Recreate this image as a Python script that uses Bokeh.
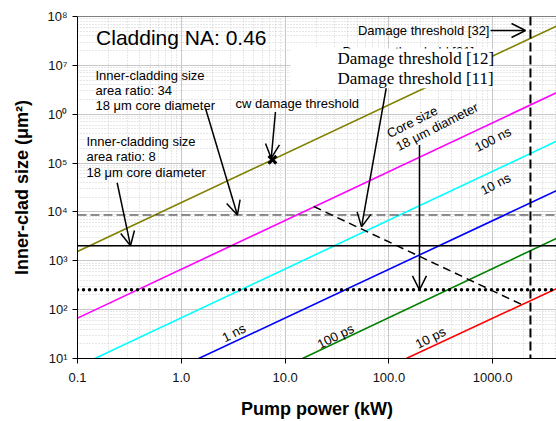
from bokeh.plotting import figure
from bokeh.models import FixedTicker, Span, Label, Arrow, OpenHead, BoxAnnotation, Range1d
from bokeh.embed import file_html
from bokeh.resources import INLINE
import math

# ---------------- data ----------------
x_ticks = [0.1, 1, 10, 100, 1000]
x_tick_labels = ["0.1", "1.0", "10.0", "100.0", "1000.0"]
y_ticks = [1e1, 1e2, 1e3, 1e4, 1e5, 1e6, 1e7, 1e8]
y_tick_labels = ["10¹", "10²", "10³", "10⁴", "10⁵", "10⁰", "10⁷", "10⁸"]

# threshold lines: inner-clad size (um^2) vs pump power (kW), end points
line_names = ["cw", "100 ns", "10 ns", "1 ns", "100 ps", "10 ps"]
line_colors = ["#808000", "#ff00ff", "#00ffff", "#0000ff", "#008000", "#ff0000"]
line_p_start = [0.1, 0.1, 0.147, 1.47, 14.7, 147.0]
line_p_end = [4117, 4117, 4117, 4117, 4117, 4117]
line_a_start = [1550, 67, 10, 10, 10, 10]
line_a_end = [6.38e7, 2.76e6, 2.8e5, 2.72e4, 2.88e3, 2.7e2]

ratio34_area = 8650      # inner-cladding, area ratio 34
ratio8_area = 2036       # inner-cladding, area ratio 8
core_area = 254          # 18 um core
damage32_power = 2310    # vertical damage threshold [32]
damage11_p = [18.9, 1923]
damage11_a = [12900, 126]
cw_point_p = [7.55]
cw_point_a = [1.17e5]

# annotation texts: (text, x, y, align, size, font)
labels = [
    ("Cladding NA: 0.46", 0.151, 3.67e7, "left", "21px", "Liberation Sans"),
    ("Inner-cladding size", 0.149, 6.25e6, "left", "13px", "Liberation Sans"),
    ("area ratio: 34", 0.149, 3.09e6, "left", "13px", "Liberation Sans"),
    ("18 μm core diameter", 0.149, 1.476e6, "left", "13px", "Liberation Sans"),
    ("Inner-cladding size", 0.122, 2.72e5, "left", "13px", "Liberation Sans"),
    ("area ratio: 8", 0.122, 1.345e5, "left", "13px", "Liberation Sans"),
    ("18 μm core diameter", 0.122, 6.34e4, "left", "13px", "Liberation Sans"),
    ("cw damage threshold", 3.33, 1.65e6, "left", "13px", "Liberation Sans"),
    ("Damage threshold [32]", 931, 5.18e7, "right", "13px", "Liberation Sans"),
    ("Damage threshold [31]", 35.7, 1.93e7, "left", "13px", "Liberation Sans"),
]
box_p = [11.3, 995]
box_a = [3.4e6, 2.22e7]
serif_labels = [
    ("Damage threshold [12]", 32.0, 1.41e7),
    ("Damage threshold [11]", 32.0, 5.51e6),
]
rot_labels = [
    ("100 ns", 1002, 3.05e5),
    ("10 ns", 1064, 3.73e4),
    ("1 ns", 3.21, 33.5),
    ("100 ps", 30.6, 28.5),
    ("10 ps", 251.6, 26.5),
    ("Core size", 167.7, 6.97e5),
    ("18 μm diameter", 290.6, 5.56e5),
]
arrows = [  # (x_start, y_start, x_end, y_end)
    (1.71, 1.32e6, 3.47, 8650),
    (0.241, 3.96e4, 0.324, 2036),
    (8.07, 1.11e6, 7.35, 1.26e5),
    (953, 5.18e7, 2070, 5.18e7),
    (94.2, 3.4e6, 54.5, 4940),
    (197, 2.33e5, 197, 254),
]

# ---------------- figure ----------------
p = figure(width=556, height=421, x_axis_type="log", y_axis_type="log",
           x_range=Range1d(0.1, 4117), y_range=Range1d(10, 1e8),
           output_backend="svg", toolbar_location=None,
           min_border_left=77, min_border_right=0, min_border_top=16, min_border_bottom=62)
p.outline_line_color = None
p.background_fill_color = "white"
p.border_fill_color = "white"

x_minor = [k * 10 ** e for e in range(-1, 4) for k in range(2, 10)]
y_minor = [k * 10 ** e for e in range(1, 8) for k in range(2, 10)]
xt = FixedTicker(ticks=x_ticks, minor_ticks=x_minor)
yt = FixedTicker(ticks=y_ticks, minor_ticks=y_minor)
p.xaxis.ticker = xt
p.yaxis.ticker = yt
p.xgrid.ticker = xt
p.ygrid.ticker = yt

for g in (p.xgrid, p.ygrid):
    g.grid_line_color = "#c8c8c8"
    g.grid_line_width = 1
    g.minor_grid_line_color = "#cfcfcf"
    g.minor_grid_line_dash = "1 2"
    g.minor_grid_line_width = 1

for ax in (p.xaxis, p.yaxis):
    ax.axis_line_color = "black"
    ax.axis_line_width = 1
    ax.major_tick_line_color = "black"
    ax.major_tick_out = 5
    ax.major_tick_in = 0
    ax.minor_tick_out = 0
    ax.minor_tick_in = 0
    ax.major_label_text_font = "Liberation Sans"
    ax.major_label_text_font_size = "13px"
    ax.major_label_text_color = "#111111"
    ax.axis_label_text_font = "Liberation Sans"
    ax.axis_label_text_font_style = "bold"
    ax.axis_label_text_font_size = "18px"
    ax.axis_label_text_color = "black"

p.xaxis.major_label_overrides = dict(zip(x_ticks, x_tick_labels))
p.yaxis.major_label_overrides = dict(zip(y_ticks, y_tick_labels))
p.xaxis.major_label_standoff = 9
p.yaxis.major_label_standoff = 5
p.xaxis.axis_label = "Pump power (kW)"
p.yaxis.axis_label = "Inner-clad size (μm²)"
p.xaxis.axis_label_standoff = 14
p.yaxis.axis_label_standoff = 12

# top border
p.add_layout(Span(location=1e8, dimension="width", line_color="black", line_width=1))

# horizontal / vertical reference lines
p.add_layout(Span(location=ratio34_area, dimension="width", line_color="#222222",
                  line_width=1, line_dash="9 4", level="glyph"))
p.add_layout(Span(location=ratio8_area, dimension="width", line_color="black",
                  line_width=1.5, level="glyph"))
p.add_layout(Span(location=core_area, dimension="width", line_color="black",
                  line_width=3.5, line_dash="0 6", line_cap="round", level="glyph"))
p.add_layout(Span(location=damage32_power, dimension="height", line_color="black",
                  line_width=2, line_dash="9 4", level="glyph"))

# threshold lines
for c, x0, x1, y0, y1 in zip(line_colors, line_p_start, line_p_end, line_a_start, line_a_end):
    p.line([x0, x1], [y0, y1], line_color=c, line_width=1.6)

p.line(damage11_p, damage11_a, line_color="black", line_width=1.5, line_dash="8 5")
p.scatter(cw_point_p, cw_point_a, marker="x", size=11, line_width=3, color="black")

# labels
for t, x, y, al, sz, fnt in labels:
    p.add_layout(Label(x=x, y=y, text=t, text_align=al, text_baseline="middle",
                       text_font_size=sz, text_font=fnt, text_color="black"))

p.add_layout(BoxAnnotation(left=box_p[0], right=box_p[1], bottom=box_a[0], top=box_a[1],
                           fill_color="white", fill_alpha=1.0, line_color=None))

for t, x, y in serif_labels:
    p.add_layout(Label(x=x, y=y, text=t, text_align="left", text_baseline="middle",
                       text_font_size="17px", text_font="Liberation Serif", text_color="black"))

for t, x, y in rot_labels:
    p.add_layout(Label(x=x, y=y, text=t, text_align="center", text_baseline="middle",
                       text_font_size="13px", text_font="Liberation Sans", text_color="black",
                       angle=math.radians(27)))

for xs, ys, xe, ye in arrows:
    p.add_layout(Arrow(x_start=xs, y_start=ys, x_end=xe, y_end=ye, line_width=1.5,
                       line_color="black",
                       end=OpenHead(size=14, line_width=1.5, line_color="black")))

open("out.html", "w").write(file_html(p, INLINE))
